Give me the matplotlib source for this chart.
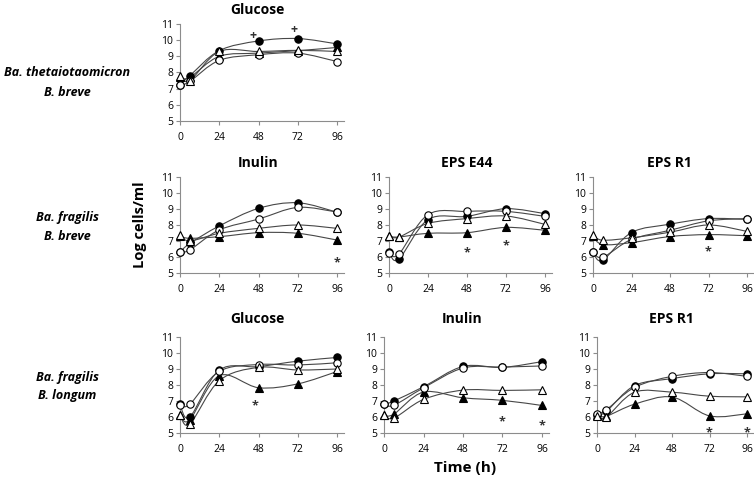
import matplotlib
matplotlib.use("Agg")
import matplotlib.pyplot as plt
from matplotlib.path import Path
from matplotlib.patches import PathPatch
import numpy as np

plt.rcParams['font.family'] = ['Open Sans', 'DejaVu Sans']

times = [0, 6, 24, 48, 72, 96]

# four series per panel: filled circle, open circle, filled triangle, open triangle
glu_theta_breve = {
    'fc': [7.25, 7.8, 9.35, 9.95, 10.1, 9.77],
    'oc': [7.2, 7.45, 8.75, 9.1, 9.2, 8.68],
    'ft': [7.7, 7.7, 9.0, 9.2, 9.35, 9.55],
    'ot': [7.8, 7.5, 9.3, 9.3, 9.37, 9.3],
}
inu_frag_breve = {
    'fc': [6.3, 6.85, 7.94, 9.04, 9.39, 8.8],
    'oc': [6.3, 6.44, 7.69, 8.37, 9.1, 8.81],
    'ft': [7.3, 7.17, 7.27, 7.52, 7.48, 7.06],
    'ot': [7.38, 7.0, 7.48, 7.79, 8.0, 7.79],
}
e44_frag_breve = {
    'fc': [6.3, 5.86, 8.34, 8.54, 9.02, 8.71],
    'oc': [6.28, 6.17, 8.65, 8.85, 8.85, 8.54],
    'ft': [7.3, 7.25, 7.48, 7.52, 7.85, 7.67],
    'ot': [7.32, 7.24, 8.1, 8.4, 8.56, 8.04],
}
r1_frag_breve = {
    'fc': [6.3, 5.8, 7.53, 8.05, 8.4, 8.35],
    'oc': [6.34, 5.98, 7.1, 7.67, 8.26, 8.4],
    'ft': [7.3, 6.78, 6.9, 7.28, 7.4, 7.33],
    'ot': [7.35, 7.05, 7.2, 7.55, 8.0, 7.6],
}
glu_frag_longum = {
    'fc': [6.8, 6.0, 8.93, 9.15, 9.49, 9.72],
    'oc': [6.76, 6.8, 8.85, 9.28, 9.25, 9.39],
    'ft': [6.1, 5.83, 8.58, 7.83, 8.07, 8.84],
    'ot': [6.14, 5.56, 8.27, 9.1, 8.94, 9.0],
}
inu_frag_longum = {
    'fc': [6.8, 7.0, 7.89, 9.16, 9.1, 9.46],
    'oc': [6.79, 6.73, 7.82, 9.06, 9.12, 9.19],
    'ft': [6.1, 6.18, 7.56, 7.2, 7.04, 6.72],
    'ot': [6.13, 5.93, 7.1, 7.68, 7.66, 7.7],
}
r1_frag_longum = {
    'fc': [6.1, 6.35, 7.96, 8.4, 8.7, 8.7],
    'oc': [6.2, 6.45, 7.85, 8.54, 8.78, 8.54],
    'ft': [6.1, 6.05, 6.8, 7.25, 6.07, 6.2],
    'ot': [6.05, 6.0, 7.55, 7.55, 7.3, 7.26],
}

# significance marks: (time, value, symbol)
marks_a = [(44.5, 10.3, '+'), (69.8, 10.65, '+')]
marks_b = [(96, 5.64, '*')]
marks_c = [(48, 6.28, '*'), (72, 6.72, '*')]
marks_d = [(72, 6.3, '*')]
marks_e = [(46, 6.7, '*')]
marks_f = [(72, 5.72, '*'), (96, 5.45, '*')]
marks_g = [(72, 5.0, '*'), (96, 5.0, '*')]

row_labels = [('Ba. thetaiotaomicron', 'B. breve'),
              ('Ba. fragilis', 'B. breve'),
              ('Ba. fragilis', 'B. longum')]

W, H = 754, 478
fig = plt.figure(figsize=(W / 100, H / 100), dpi=100)

styles = {
    'fc': dict(marker='o', mfc='black', ms=5.3),
    'oc': dict(marker='o', mfc='white', ms=5.3),
    'ft': dict(marker='^', mfc='black', ms=5.3),
    'ot': dict(marker='^', mfc='white', ms=5.3),
}
order = ['fc', 'ft', 'oc', 'ot']


def smooth_path(x, y):
    # Excel-like smoothed line: cubic Bezier through the points
    pts = np.column_stack([x, y]).astype(float)
    n = len(pts)
    verts = [pts[0]]
    codes = [Path.MOVETO]
    for i in range(n - 1):
        p0 = pts[i - 1] if i > 0 else pts[i]
        p1 = pts[i]
        p2 = pts[i + 1]
        p3 = pts[i + 2] if i + 2 < n else pts[i + 1]
        c1 = p1 + (p2 - p0) / 6.0
        c2 = p2 - (p3 - p1) / 6.0
        verts += [c1, c2, p2]
        codes += [Path.CURVE4] * 3
    return Path(verts, codes)


def panel(px_left, px_x96, px_top, px_bottom, title, data, marks, title_y):
    per_h = (px_x96 - px_left) / 96.0
    px_right = px_left + 100 * per_h
    ax = fig.add_axes([px_left / W, 1 - px_bottom / H,
                       (px_right - px_left) / W, (px_bottom - px_top) / H])
    ax.set_xlim(0, 100)
    ax.set_ylim(5, 11)
    for key in order:
        patch = PathPatch(smooth_path(times, data[key]), facecolor='none',
                          edgecolor='#474747', lw=0.8, zorder=2)
        ax.add_patch(patch)
    for i, key in enumerate(order):
        ax.plot(times, data[key], ls='none', mec='black', mew=0.8,
                zorder=3 + i, clip_on=False, **styles[key])
    for t, v, s in marks:
        ax.text(t, v, s, ha='center', va='center', fontsize=9,
                fontweight='bold', color='#333333')
    ax.set_xticks([0, 24, 48, 72, 96])
    ax.set_yticks(range(5, 12))
    for sp in ['top', 'right']:
        ax.spines[sp].set_visible(False)
    for sp in ['left', 'bottom']:
        ax.spines[sp].set_color('#8c8c8c')
        ax.spines[sp].set_linewidth(0.8)
    ax.tick_params(direction='out', length=3, width=0.8, color='#8c8c8c',
                   labelsize=7.5, pad=2)
    ax.tick_params(axis='x', pad=5)
    cx = (px_left - 8 + px_right) / 2
    fig.text(cx / W, 1 - title_y / H, title, ha='center', va='center',
             fontsize=10, fontweight='bold')
    return ax


panel(180, 337, 24, 121, 'Glucose', glu_theta_breve, marks_a, 10)
panel(180, 337, 177, 273, 'Inulin', inu_frag_breve, marks_b, 163)
panel(389, 545, 177, 273, 'EPS E44', e44_frag_breve, marks_c, 163)
panel(593, 747, 177, 273, 'EPS R1', r1_frag_breve, marks_d, 163)
panel(180, 337, 337, 433, 'Glucose', glu_frag_longum, marks_e, 319)
panel(384, 542, 337, 433, 'Inulin', inu_frag_longum, marks_f, 319)
panel(597, 747, 337, 433, 'EPS R1', r1_frag_longum, marks_g, 319)

for (l1, l2), y in zip(row_labels, [73, 217, 377]):
    fig.text(67 / W, 1 - y / H, l1, ha='center', va='center', fontsize=9,
             fontweight='bold', style='italic')
    fig.text(67 / W, 1 - (y + 19) / H, l2, ha='center', va='center',
             fontsize=9, fontweight='bold', style='italic')

fig.text(140 / W, 1 - 225 / H, 'Log cells/ml', rotation=90, ha='center',
         va='center', fontsize=10.5, fontweight='bold')
fig.text(465 / W, 1 - 468 / H, 'Time (h)', ha='center', va='center',
         fontsize=11, fontweight='bold')

fig.savefig('out.png', dpi=100)
